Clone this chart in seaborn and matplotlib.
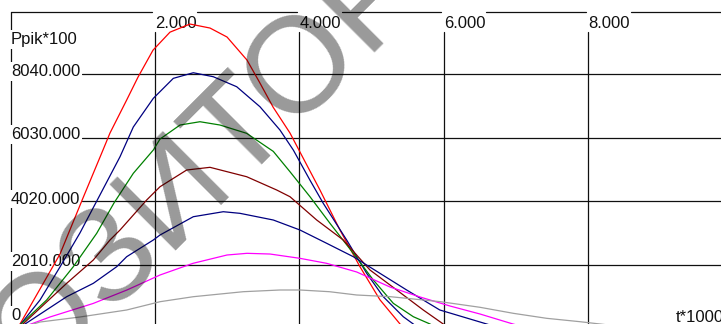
import numpy as np
import pandas as pd
import seaborn as sns
import matplotlib
matplotlib.use('Agg')
import matplotlib.pyplot as plt

# curves: t (axis says t*1000) and Ppik (axis says *100)
red_t = [104, 132, 409, 686, 1004, 1281, 1378, 1609, 1766, 1974, 2209, 2486, 2763, 2999, 3275,
         3455, 3636, 3871, 4286, 4563, 4840, 5117, 5349, 5395, 5450]
red_p = [0, 145, 1252, 2357, 4127, 5644, 6181, 7224, 7947, 8800, 9369, 9625, 9499, 9215, 8488,
         7761, 7003, 6181, 4380, 3116, 1956, 910, 272, 145, 0]

navy_t = [104, 132, 409, 686, 963, 1240, 1517, 1701, 1978, 2255, 2532, 2809, 3133, 3455, 3732,
          3917, 4148, 4332, 4656, 4933, 5163, 5440, 5579, 5644]
navy_p = [0, 114, 904, 1951, 3027, 4228, 5432, 6371, 7277, 7909, 8086, 7960, 7644, 7012, 6276,
          5644, 4690, 3959, 2800, 1748, 1008, 376, 145, 0]

green_t = [104, 132, 501, 870, 1194, 1433, 1701, 1978, 2071, 2348, 2624, 2901, 3271, 3640, 3871,
           4148, 4425, 4748, 5025, 5302, 5579, 5811, 5908]
green_p = [0, 114, 904, 1956, 3011, 3969, 4907, 5644, 5991, 6434, 6538, 6434, 6171, 5600, 4958,
           4168, 3327, 2379, 1536, 799, 376, 145, 0]

brown_t = [104, 316, 778, 1147, 1378, 1517, 1886, 2071, 2440, 2763, 3271, 3687, 3871, 4241, 4609,
           4979, 5349, 5717, 5994, 6087]
brown_p = [0, 449, 1431, 2168, 2800, 3116, 4064, 4484, 5012, 5097, 4800, 4380, 4168, 3432, 2800,
           1852, 1220, 588, 145, 0]

blue_t = [104, 316, 778, 1147, 1471, 1609, 1978, 2071, 2532, 2947, 3178, 3640, 4009, 4379, 4748,
          5117, 5487, 5946, 6410, 6641, 6780]
blue_p = [0, 316, 1008, 1431, 1956, 2272, 2800, 2958, 3536, 3694, 3643, 3432, 3116, 2696, 2272,
          1747, 1220, 588, 272, 114, 0]

magenta_t = [104, 312, 547, 1143, 1613, 2071, 2528, 2999, 3275, 3594, 4009, 4379, 4795, 5256, 5672,
             6087, 6503, 6960, 7195]
magenta_p = [0, 167, 367, 793, 1220, 1694, 2063, 2326, 2379, 2357, 2221, 2063, 1789, 1315, 999,
             714, 461, 145, 0]

gray_t = [104, 409, 963, 1609, 2071, 2532, 3224, 3733, 4009, 4418, 4795, 5263, 5956, 6503, 6964,
          7426, 7888, 8165, 8700]
gray_p = [0, 208, 367, 588, 850, 1008, 1166, 1220, 1220, 1166, 1062, 1008, 850, 673, 483,
          325, 218, 145, 0]

x_ticks = [2000, 4000, 6000, 8000]
x_labels = ['2.000', '4.000', '6.000', '8.000']
y_ticks = [0, 2010, 4020, 6030, 8040]
y_labels = ['0', '2010.000', '4020.000', '6030.000', '8040.000']

curves = {'red': (red_t, red_p), 'navy': (navy_t, navy_p), 'green': (green_t, green_p),
          'brown': (brown_t, brown_p), 'blue': (blue_t, blue_p),
          'magenta': (magenta_t, magenta_p), 'gray': (gray_t, gray_p)}
colors = {'red': '#ff0000', 'navy': '#000080', 'green': '#008000', 'brown': '#800000',
          'blue': '#000080', 'magenta': '#ff00ff', 'gray': '#a0a0a0'}

df = pd.concat([pd.DataFrame({'t': v[0], 'P': v[1], 'curve': k}) for k, v in curves.items()])

sns.set_theme(style='white')
plt.rcParams['font.family'] = ['Liberation Sans', 'DejaVu Sans']

fig = plt.figure(figsize=(7.21, 3.24), dpi=100)
ax = fig.add_axes([0, 0, 1, 1])

# pixel -> data mapping of the old program window
X0, XS = 10.5, 2000 / 144.4
Y0, YS = 328.6, 2010 / 63.6
def px(x, y):
    return (x - X0) * XS, (Y0 - y) * YS

ax.set_xlim(px(0, 0)[0], px(721, 0)[0])
ax.set_ylim(px(0, 324)[1], px(0, 0)[1])
ax.axis('off')

lc = '#101010'
lw = 0.9
top = px(0, 11.7)[1]
xr = px(721, 0)[0]
# frame top line, broken where the x labels sit
edges = [0] + [v for t in x_ticks for v in (t - 2.5 * XS, t + 42.5 * XS)] + [xr]
for a, b in zip(edges[::2], edges[1::2]):
    ax.plot([a, b], [top, top], color=lc, lw=lw, zorder=1)
# left axis line
ax.plot([px(11, 0)[0]] * 2, [top, px(0, 330)[1]], color=lc, lw=lw, zorder=1)
# grid
for t in x_ticks:
    ax.plot([t, t], [px(0, 31.7)[1], px(0, 330)[1]], color=lc, lw=lw, zorder=1)
for p in y_ticks[1:]:
    ax.plot([px(82, 0)[0], xr], [p, p], color=lc, lw=lw, zorder=1)

fs = 12
for t, s in zip(x_ticks, x_labels):
    ax.text(t, px(0, 28)[1], s, fontsize=fs, ha='left', va='baseline', color='#111111', zorder=2)
base = {0: 320, 2010: 266, 4020: 203.5, 6030: 139, 8040: 76}
for p, s in zip(y_ticks, y_labels):
    ax.text(px(11, 0)[0], px(0, base[p])[1], s, fontsize=fs, ha='left', va='baseline',
            color='#111111', zorder=2,
            bbox=dict(boxstyle='square,pad=0.1', fc='white', ec='none'))
ax.text(px(11, 0)[0], px(0, 44)[1], 'Ppik*100', fontsize=fs, ha='left', va='baseline',
        color='#111111', zorder=2, bbox=dict(boxstyle='square,pad=0.1', fc='white', ec='none'))
ax.text(px(676, 0)[0], px(0, 322)[1], 't*1000', fontsize=fs, ha='left', va='baseline',
        color='#111111', zorder=2)

sns.lineplot(data=df, x='t', y='P', hue='curve', palette=colors, estimator=None, sort=False,
             units='curve', lw=0.9, legend=False, ax=ax, zorder=3)

# watermark over the whole picture
fig.text(176 / 721, 1 - 190 / 324, 'РЕПОЗИТОРИЙ', fontsize=98, rotation=45,
         ha='center', va='center', color='black', alpha=0.4, zorder=10,
         rotation_mode='anchor')

fig.savefig('out.png', dpi=100)
